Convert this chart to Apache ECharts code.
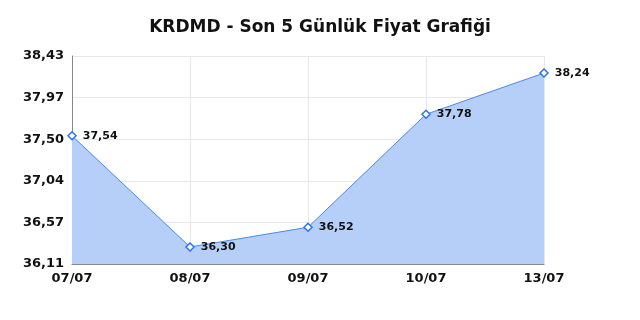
<!DOCTYPE html>
<html>
<head>
<meta charset="utf-8">
<script src="https://cdn.jsdelivr.net/npm/echarts@6/dist/echarts.min.js"></script>
<style>
  html, body { margin: 0; padding: 0; background: #fff; }
  #chart { width: 640px; height: 320px; }
</style>
</head>
<body>
<div id="chart"></div>
<script>
const titleText = "KRDMD - Son 5 Günlük Fiyat Grafiği";
const dates = ["07/07", "08/07", "09/07", "10/07", "13/07"];
const prices = [37.54, 36.30, 36.52, 37.78, 38.24];
const yTicks = [36.11, 36.574, 37.038, 37.502, 37.966, 38.43];

const fmt = (v) => v.toFixed(2).replace(".", ",");
const font = "DejaVu Sans";

const chart = echarts.init(document.getElementById("chart"));

chart.setOption({
  animation: false,
  backgroundColor: "#fff",
  title: {
    text: titleText,
    left: "center",
    top: 14,
    textStyle: { fontFamily: font, fontSize: 17, fontWeight: "bold", color: "#111" }
  },
  grid: { left: 72, right: 96, top: 56, bottom: 56 },
  xAxis: {
    type: "category",
    data: dates,
    boundaryGap: false,
    axisLine: { lineStyle: { color: "#888" } },
    axisTick: { show: false },
    splitLine: { show: true, lineStyle: { color: "#e8e8e8" } },
    axisLabel: { fontFamily: font, fontSize: 13, fontWeight: "bold", color: "#111", margin: 8 }
  },
  yAxis: {
    type: "value",
    min: 36.11,
    max: 38.43,
    axisLine: { show: true, lineStyle: { color: "#888" } },
    axisTick: { show: false, customValues: yTicks },
    splitLine: { show: true, lineStyle: { color: "#e8e8e8" } },
    axisLabel: {
      customValues: yTicks,
      fontFamily: font, fontSize: 13, fontWeight: "bold", color: "#111", margin: 8,
      formatter: (v) => fmt(v)
    }
  },
  series: [{
    type: "line",
    data: prices,
    symbol: "diamond",
    symbolSize: 8,
    itemStyle: { color: "#fff", borderColor: "#2f73e8", borderWidth: 1.5 },
    lineStyle: { color: "#4a88ee", width: 1 },
    areaStyle: { color: "#b6cff9", opacity: 1 },
    label: {
      show: true,
      position: "right",
      distance: 6,
      fontFamily: font,
      fontSize: 11,
      fontWeight: "bold",
      color: "#111",
      formatter: (p) => fmt(p.value)
    }
  }]
});
</script>
</body>
</html>
